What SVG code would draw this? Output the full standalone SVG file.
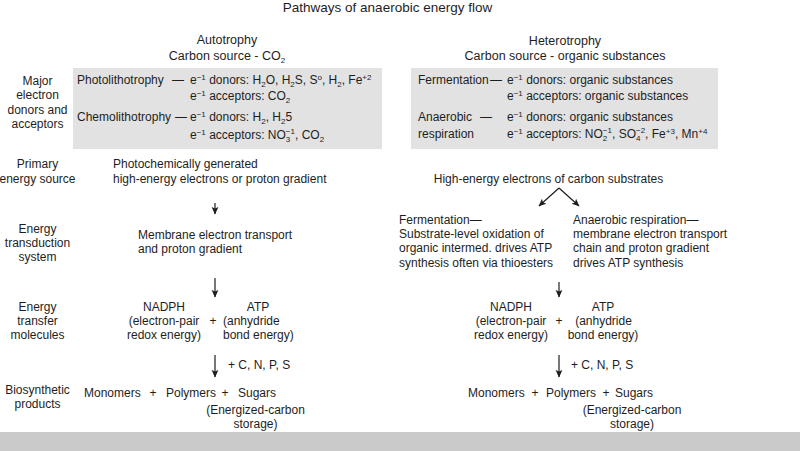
<svg xmlns="http://www.w3.org/2000/svg" width="800" height="451" viewBox="0 0 800 451">
<style>
text{font-family:"Liberation Sans",Arial,sans-serif;font-size:12px;fill:#1e1e1e}
.c{text-anchor:middle}
.h{font-size:12.5px}
.ttl{font-size:13.5px}
.sp{font-size:8px}
.box{fill:#e2e2e2}
.ar{stroke:#1e1e1e;stroke-width:1.2;fill:none}
</style>
<defs>
<marker id="ah" markerWidth="8" markerHeight="8" refX="7" refY="4" orient="auto" markerUnits="userSpaceOnUse" viewBox="0 0 8 8">
<path d="M0,0.6 L7.5,4 L0,7.4 L1.6,4 Z" fill="#1e1e1e"/>
</marker>
</defs>
<rect width="800" height="451" fill="#ffffff"/>
<rect x="0" y="432" width="800" height="19" fill="#cacaca"/>

<text id="title" class="c ttl" x="387.5" y="11.5">Pathways of anaerobic energy flow</text>

<g id="row-labels">
<text class="c" x="37.5" y="85">Major</text>
<text class="c" x="37.5" y="99">electron</text>
<text class="c" x="37.5" y="113.5">donors and</text>
<text class="c" x="37.5" y="128">acceptors</text>
<text class="c" x="37.5" y="168">Primary</text>
<text class="c" x="37.5" y="182.5">energy source</text>
<text class="c" x="37.5" y="233">Energy</text>
<text class="c" x="37.5" y="247">transduction</text>
<text class="c" x="37.5" y="261">system</text>
<text class="c" x="37.5" y="310.5">Energy</text>
<text class="c" x="37.5" y="324.5">transfer</text>
<text class="c" x="37.5" y="338.5">molecules</text>
<text class="c" x="37.5" y="394">Biosynthetic</text>
<text class="c" x="37.5" y="408">products</text>
</g>

<g id="autotrophy-head">
<text class="c h" x="227" y="44">Autotrophy</text>
<text class="c h" x="227" y="60">Carbon source - CO<tspan class="sp" dy="3">2</tspan></text>
</g>

<g id="autotrophy-donors">
<rect class="box" x="73" y="68" width="309" height="81"/>
<text x="77" y="84">Photolithotrophy</text>
<text x="172" y="84">—</text>
<text x="190" y="84">e<tspan class="sp" dy="-4.5">−1</tspan><tspan dy="4.5"> donors: H</tspan><tspan class="sp" dy="3">2</tspan><tspan dy="-3">O, H</tspan><tspan class="sp" dy="3">2</tspan><tspan dy="-3">S, S</tspan><tspan class="sp" dy="-4.5">o</tspan><tspan dy="4.5">, H</tspan><tspan class="sp" dy="3">2</tspan><tspan dy="-3">, Fe</tspan><tspan class="sp" dy="-4.5">+2</tspan></text>
<text x="190" y="100">e<tspan class="sp" dy="-4.5">−1</tspan><tspan dy="4.5"> acceptors: CO</tspan><tspan class="sp" dy="3">2</tspan></text>
<text x="77" y="121">Chemolithotrophy</text>
<text x="175" y="121">—</text>
<text x="190" y="121">e<tspan class="sp" dy="-4.5">−1</tspan><tspan dy="4.5"> donors: H</tspan><tspan class="sp" dy="3">2</tspan><tspan dy="-3">, H</tspan><tspan class="sp" dy="3">2</tspan><tspan dy="-3">5</tspan></text>
<text x="190" y="139">e<tspan class="sp" dy="-4.5">−1</tspan><tspan dy="4.5"> acceptors: NO</tspan><tspan class="sp" dy="3">3</tspan><tspan class="sp" dx="-4.45" dy="-8">−1</tspan><tspan dy="5">, CO</tspan><tspan class="sp" dy="3">2</tspan></text>
</g>

<g id="heterotrophy-head">
<text class="c h" x="565" y="45">Heterotrophy</text>
<text class="c h" x="565" y="60">Carbon source - organic substances</text>
</g>

<g id="heterotrophy-donors">
<rect class="box" x="411" y="68" width="307" height="81"/>
<text x="418" y="84">Fermentation</text>
<text x="490" y="84">—</text>
<text x="507" y="84">e<tspan class="sp" dy="-4.5">−1</tspan><tspan dy="4.5"> donors: organic substances</tspan></text>
<text x="507" y="100">e<tspan class="sp" dy="-4.5">−1</tspan><tspan dy="4.5"> acceptors: organic substances</tspan></text>
<text x="418" y="121">Anaerobic</text>
<text x="480" y="121">—</text>
<text x="418" y="138">respiration</text>
<text x="507" y="121">e<tspan class="sp" dy="-4.5">−1</tspan><tspan dy="4.5"> donors: organic substances</tspan></text>
<text x="507" y="138">e<tspan class="sp" dy="-4.5">−1</tspan><tspan dy="4.5"> acceptors: NO</tspan><tspan class="sp" dy="3">2</tspan><tspan class="sp" dx="-4.45" dy="-8">−1</tspan><tspan dy="5">, SO</tspan><tspan class="sp" dy="3">4</tspan><tspan class="sp" dx="-4.45" dy="-8">−2</tspan><tspan dy="5">, Fe</tspan><tspan class="sp" dy="-4.5">+3</tspan><tspan dy="4.5">, Mn</tspan><tspan class="sp" dy="-4.5">+4</tspan></text>
</g>

<g id="auto-energy-source">
<text x="113" y="168">Photochemically generated</text>
<text x="113" y="182.5">high-energy electrons or proton gradient</text>
</g>
<g id="auto-transduction">
<text x="138" y="239">Membrane electron transport</text>
<text x="138" y="253">and proton gradient</text>
</g>
<g id="auto-transfer">
<text class="c" x="164" y="310.5">NADPH</text>
<text class="c" x="164" y="324.5">(electron-pair</text>
<text class="c" x="164" y="338.5">redox energy)</text>
<text class="c" x="213" y="324.5">+</text>
<text class="c" x="258" y="310.5">ATP</text>
<text x="223" y="324.5">(anhydride</text>
<text x="223" y="338.5">bond energy)</text>
</g>
<g id="auto-products">
<text x="84" y="397">Monomers</text>
<text class="c" x="153" y="397">+</text>
<text x="166" y="397">Polymers</text>
<text class="c" x="225" y="397">+</text>
<text x="238" y="397">Sugars</text>
<text class="c" x="255.5" y="414">(Energized-carbon</text>
<text class="c" x="255.5" y="428">storage)</text>
</g>

<g id="hetero-energy-source">
<text class="c" x="548.5" y="182.5">High-energy electrons of carbon substrates</text>
</g>
<g id="hetero-fermentation">
<text x="399" y="224">Fermentation—</text>
<text x="399" y="238">Substrate-level oxidation of</text>
<text x="399" y="252">organic intermed. drives ATP</text>
<text x="399" y="266.5">synthesis often via thioesters</text>
</g>
<g id="hetero-respiration">
<text x="573" y="224">Anaerobic respiration—</text>
<text x="573" y="238">membrane electron transport</text>
<text x="573" y="252">chain and proton gradient</text>
<text x="573" y="266.5">drives ATP synthesis</text>
</g>
<g id="hetero-transfer">
<text class="c" x="511" y="310.5">NADPH</text>
<text class="c" x="511" y="324.5">(electron-pair</text>
<text class="c" x="511" y="338.5">redox energy)</text>
<text class="c" x="559" y="324.5">+</text>
<text class="c" x="603" y="310.5">ATP</text>
<text class="c" x="603.5" y="324.5">(anhydride</text>
<text class="c" x="603" y="338.5">bond energy)</text>
</g>
<g id="hetero-products">
<text x="468" y="397">Monomers</text>
<text class="c" x="535" y="397">+</text>
<text x="546" y="397">Polymers</text>
<text class="c" x="606" y="397">+</text>
<text x="615" y="397">Sugars</text>
<text class="c" x="632" y="414">(Energized-carbon</text>
<text class="c" x="632" y="428">storage)</text>
</g>

<g id="connectors">
<line class="ar" x1="215" y1="203" x2="215" y2="214" marker-end="url(#ah)"/>
<line class="ar" x1="215" y1="278" x2="215" y2="297" marker-end="url(#ah)"/>
<line class="ar" x1="215" y1="355" x2="215" y2="377" marker-end="url(#ah)"/>
<text x="228" y="369">+ C, N, P, S</text>
<line class="ar" x1="559" y1="188" x2="539" y2="206" marker-end="url(#ah)"/>
<line class="ar" x1="559" y1="188" x2="579" y2="206" marker-end="url(#ah)"/>
<line class="ar" x1="559" y1="282" x2="559" y2="297" marker-end="url(#ah)"/>
<line class="ar" x1="559" y1="355" x2="559" y2="377" marker-end="url(#ah)"/>
<text x="571" y="369">+ C, N, P, S</text>
</g>
</svg>
